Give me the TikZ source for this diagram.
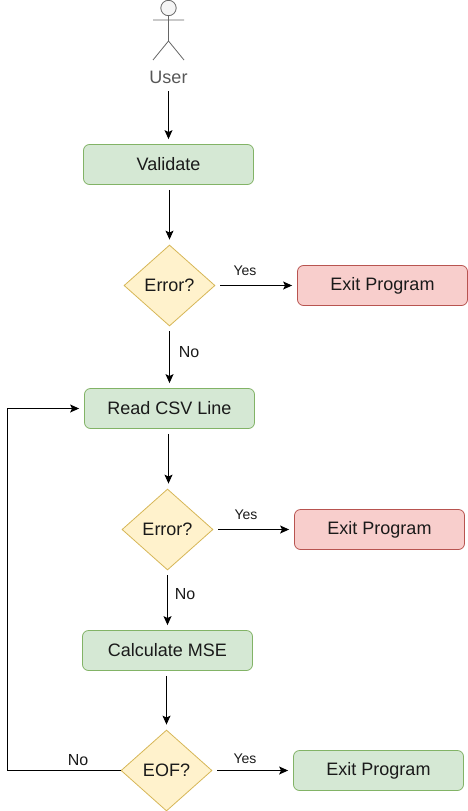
\documentclass[tikz,border=0pt]{standalone}
\usepackage{fontspec}
\setmainfont{Liberation Sans}
\usetikzlibrary{shapes.geometric,arrows.meta}
\definecolor{greenfill}{HTML}{D5E8D4}
\definecolor{greenline}{HTML}{82B366}
\definecolor{redfill}{HTML}{F8CECC}
\definecolor{redline}{HTML}{B85450}
\definecolor{yellowfill}{HTML}{FFF2CC}
\definecolor{yellowline}{HTML}{D6B656}
\definecolor{actorline}{HTML}{666666}
\definecolor{actorfill}{HTML}{F5F5F5}
\definecolor{inktext}{HTML}{1A1A1A}
\tikzset{
	stepbox/.style={draw,rounded corners=6pt,line width=0.8pt,minimum width=170pt,minimum height=40pt,inner sep=0pt,text=inktext,font=\fontsize{18}{20}\selectfont},
	okbox/.style={stepbox,fill=greenfill,draw=greenline},
	exitbox/.style={stepbox,fill=redfill,draw=redline},
	askbox/.style={diamond,draw=yellowline,fill=yellowfill,line width=0.8pt,minimum width=91pt,minimum height=81pt,aspect=1.12,inner sep=0pt,text=inktext,font=\fontsize{18}{20}\selectfont},
	yeslabel/.style={text=inktext,font=\fontsize{14}{16}\selectfont},
	nolabel/.style={text=inktext,font=\fontsize{16}{18}\selectfont},
	flowtip/.style={-{Stealth[length=9pt,width=8pt,inset=2pt]},line width=1pt},
	flow/.style={flowtip,shorten >=5pt,shorten <=5pt}
}

\begin{document}
\begin{tikzpicture}[x=1pt,y=-1pt]
	\useasboundingbox (0,0) rectangle (468,811);
	% the user figure
	\draw[actorline,fill=actorfill,line width=0.8pt] (168.5,8) circle (7.7pt);
	\draw[actorline,line width=0.8pt] (168.5,16) -- (168.5,41) (153,20) -- (184,20)
		(153,60) -- (168.5,41) -- (184,60);
	\node (user) at (168.5,77.5) [text=actorline!85!black,font=\fontsize{18}{20}\selectfont] {User};
	\coordinate (userfoot) at (168.5,86);
	% steps
	\node (validate) at (168.5,164.5) [okbox] {Validate};
	\node (errora) at (169.5,285.5) [askbox] {Error?};
	\node (exita) at (382.5,285.5) [exitbox] {Exit Program};
	\node (readcsv) at (169.5,408.5) [okbox] {Read CSV Line};
	\node (errorb) at (167.5,529.5) [askbox] {Error?};
	\node (exitb) at (379.5,529.5) [exitbox] {Exit Program};
	\node (mse) at (167.5,650.5) [okbox] {Calculate MSE};
	\node (eof) at (166.5,770.5) [askbox] {EOF?};
	\node (exitc) at (378.5,770.5) [okbox] {Exit Program};
	\coordinate (loopcorner) at (7,770.5);
	% labels
	\node (yesa) at (245,271) [yeslabel] {Yes};
	\node (noa) at (189,352.5) [nolabel] {No};
	\node (yesb) at (246,515) [yeslabel] {Yes};
	\node (nob) at (185,594.5) [nolabel] {No};
	\node (yesc) at (245,759) [yeslabel] {Yes};
	\node (noc) at (78,760) [nolabel] {No};
	% connectors
	\path[flow]
	(userfoot) edge (validate.north)
	(validate.south -| errora) edge (errora.north)
	(errora.east) edge (exita.west)
	(errora.south) edge (readcsv.north -| errora)
	([xshift=1pt]readcsv.south -| errorb) edge ([xshift=1pt]errorb.north)
	(errorb.east) edge (exitb.west)
	(errorb.south) edge (mse.north)
	(mse.south -| eof) edge (eof.north)
	(eof.east) edge (exitc.west);
	\draw[flowtip,shorten >=5pt] (eof.west) -- (loopcorner) |- (readcsv.west);
\end{tikzpicture}
\end{document}
